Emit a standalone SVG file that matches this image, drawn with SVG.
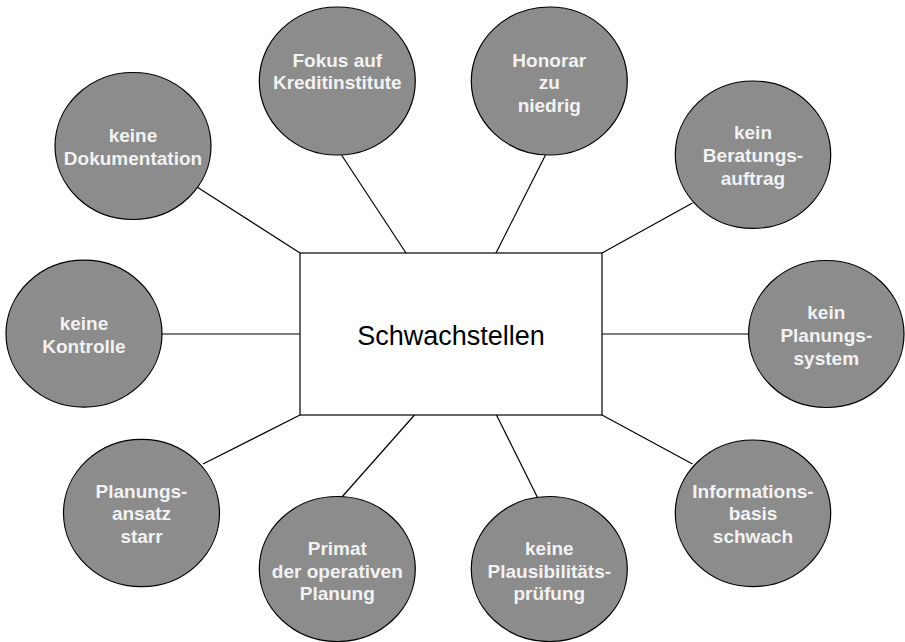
<svg xmlns="http://www.w3.org/2000/svg" width="905" height="642" viewBox="0 0 905 642">
<style>
.n ellipse{fill:#8c8c8c;stroke:#000;stroke-width:1.2}
.n text{font-family:"Liberation Sans",Arial,sans-serif;font-weight:bold;font-size:19px;fill:#f2f2f2;text-anchor:middle}
#edges line{stroke:#000;stroke-width:1.2}
</style>
<rect width="905" height="642" fill="#fff"/>
<g id="edges">
<line x1="197" y1="187" x2="300" y2="253"/>
<line x1="341.5" y1="155" x2="406" y2="253"/>
<line x1="545.5" y1="155" x2="496" y2="253"/>
<line x1="692.5" y1="203" x2="602" y2="253"/>
<line x1="162" y1="334" x2="300" y2="334"/>
<line x1="602" y1="334" x2="749" y2="334"/>
<line x1="203" y1="464" x2="300" y2="415"/>
<line x1="341.5" y1="497.5" x2="414.5" y2="415"/>
<line x1="537.5" y1="497.5" x2="496.5" y2="415"/>
<line x1="692.5" y1="464" x2="602" y2="415"/>
</g>
<g id="center">
<rect x="300" y="253" width="302" height="162" fill="#fff" stroke="#000" stroke-width="1.2"/>
<text x="451" y="345" font-family="Liberation Sans,Arial,sans-serif" font-size="27" text-anchor="middle" fill="#000">Schwachstellen</text>
</g>
<g id="n-dokumentation" class="n"><ellipse cx="133" cy="146" rx="78" ry="73.5"/><text x="133" y="142.3">keine</text><text x="133" y="165">Dokumentation</text></g>
<g id="n-fokus" class="n"><ellipse cx="337.3" cy="81" rx="78" ry="74"/><text x="337.3" y="66.7">Fokus auf</text><text x="337.3" y="89.3">Kreditinstitute</text></g>
<g id="n-honorar" class="n"><ellipse cx="549.3" cy="81" rx="78" ry="74"/><text x="549.3" y="66.7">Honorar</text><text x="549.3" y="89.3">zu</text><text x="549.3" y="112">niedrig</text></g>
<g id="n-beratung" class="n"><ellipse cx="753" cy="154.7" rx="77.7" ry="73.7"/><text x="753" y="139.3">kein</text><text x="753" y="162">Beratungs-</text><text x="753" y="184.7">auftrag</text></g>
<g id="n-kontrolle" class="n"><ellipse cx="84" cy="333.7" rx="78" ry="73.5"/><text x="84" y="330">keine</text><text x="84" y="352.7">Kontrolle</text></g>
<g id="n-planungssystem" class="n"><ellipse cx="826.3" cy="334" rx="77.7" ry="73.5"/><text x="826.3" y="319.3">kein</text><text x="826.3" y="342">Planungs-</text><text x="826.3" y="364.7">system</text></g>
<g id="n-planungsansatz" class="n"><ellipse cx="141.5" cy="513" rx="78" ry="73.7"/><text x="141.5" y="497.7">Planungs-</text><text x="141.5" y="520.3">ansatz</text><text x="141.5" y="543">starr</text></g>
<g id="n-primat" class="n"><ellipse cx="337.3" cy="569" rx="78" ry="72.5"/><text x="337.3" y="555">Primat</text><text x="337.3" y="577.7">der operativen</text><text x="337.3" y="600.3">Planung</text></g>
<g id="n-plausibilitaet" class="n"><ellipse cx="549.3" cy="569" rx="78" ry="72.5"/><text x="549.3" y="555">keine</text><text x="549.3" y="577.7">Plausibilitäts-</text><text x="549.3" y="600.3">prüfung</text></g>
<g id="n-informationsbasis" class="n"><ellipse cx="753" cy="513.3" rx="77.7" ry="73.3"/><text x="753" y="497.7">Informations-</text><text x="753" y="520.3">basis</text><text x="753" y="543">schwach</text></g>
</svg>
